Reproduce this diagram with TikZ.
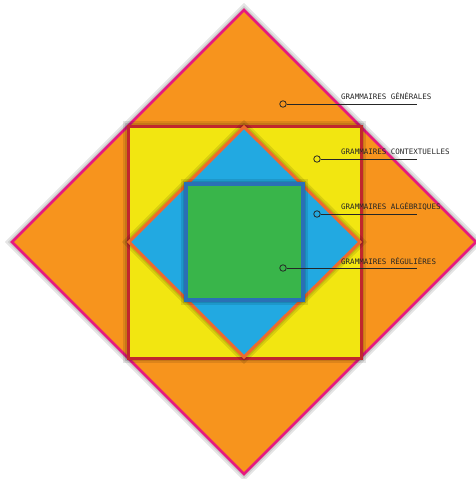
\documentclass[tikz,border=0pt]{standalone}
\usepackage{fontspec}
\newfontfamily\tagfont{DejaVu Sans Mono}
\usetikzlibrary{positioning}
\definecolor{gorange}{HTML}{F7941D}
\definecolor{gmagenta}{HTML}{E6197F}
\definecolor{gyellow}{HTML}{F2E611}
\definecolor{gred}{HTML}{C1272D}
\definecolor{gblue}{HTML}{22A9E1}
\definecolor{grust}{HTML}{EE6A2C}
\definecolor{ggreen}{HTML}{39B54A}
\definecolor{gnavy}{HTML}{2A70B5}
\tikzset{
  halo/.style={draw=black, draw opacity=0.10, line width=#1},
  tag/.style={font=\tagfont\fontsize{7.5}{9}\selectfont, text=black!85, inner sep=0pt, anchor=base west},
  pin/.style={circle, draw=black!85, line width=0.8pt, minimum size=6.5pt, inner sep=0pt},
  lead/.style={draw=black!85, line width=0.9pt}
}
\begin{document}
\begin{tikzpicture}[x=1pt,y=-1pt]
\useasboundingbox (0,0) rectangle (475,479);

% grammaires generales
\foreach \w in {10,6} \draw[halo=\w] (244,10) -- (476,242) -- (244,474) -- (12,242) -- cycle;
\filldraw[fill=gorange, draw=gmagenta, line width=2.5pt] (244,10) -- (476,242) -- (244,474) -- (12,242) -- cycle;

% contextuelles
\foreach \w in {10,6} \draw[halo=\w] (128,126) rectangle (361,358);
\filldraw[fill=gyellow, draw=gred, line width=3pt] (128,126) rectangle (361,358);

% algebriques
\foreach \w in {10,6} \draw[halo=\w] (244,127) -- (360,242) -- (244,357) -- (129,242) -- cycle;
\filldraw[fill=gblue, draw=grust, line width=3pt] (244,127) -- (360,242) -- (244,357) -- (129,242) -- cycle;

% regulieres
\foreach \w in {10,6} \draw[halo=\w] (186,184) rectangle (303,300);
\filldraw[fill=ggreen, draw=gnavy, line width=3.5pt] (186,184) rectangle (303,300);

% labels
\node[pin] (c1) at (283,104) {};
\coordinate (e1) at (417,104);
\node[tag] (t1) at (341,99) {GRAMMAIRES GÉNÉRALES};
\draw[lead] (c1) -- (e1);

\node[pin] (c2) at (317,159) {};
\coordinate (e2) at (417,159);
\node[tag] (t2) at (341,154) {GRAMMAIRES CONTEXTUELLES};
\draw[lead] (c2) -- (e2);

\node[pin] (c3) at (317,214) {};
\coordinate (e3) at (417,214);
\node[tag] (t3) at (341,209) {GRAMMAIRES ALGÉBRIQUES};
\draw[lead] (c3) -- (e3);

\node[pin] (c4) at (283,268) {};
\coordinate (e4) at (417,268);
\node[tag] (t4) at (341,264) {GRAMMAIRES RÉGULIÈRES};
\draw[lead] (c4) -- (e4);
\end{tikzpicture}
\end{document}
